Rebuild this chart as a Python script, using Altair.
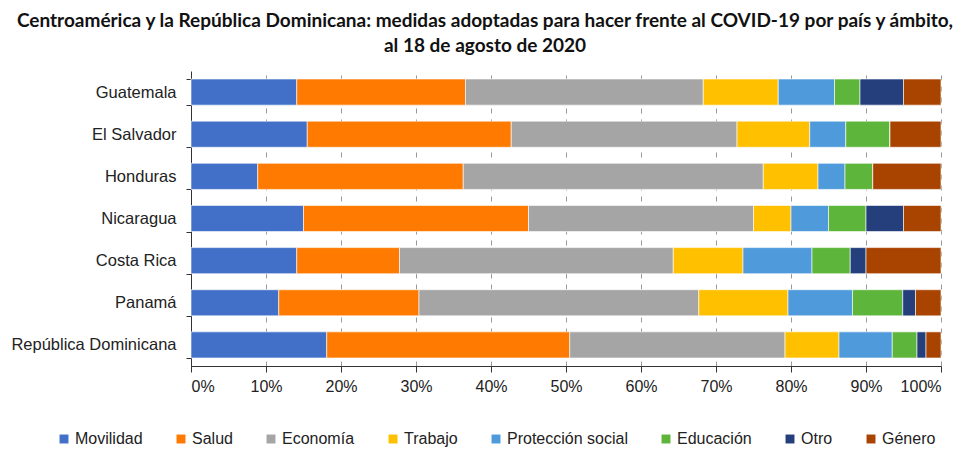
import altair as alt
import pandas as pd

countries = ["Guatemala", "El Salvador", "Honduras", "Nicaragua",
             "Costa Rica", "Panamá", "República Dominicana"]
categories = ["Movilidad", "Salud", "Economía", "Trabajo",
              "Protección social", "Educación", "Otro", "Género"]
colors = ["#4270C8", "#FF7A00", "#A5A5A5", "#FFC000",
          "#4F9ADB", "#5DB53B", "#243F7C", "#A84300"]

# shares (%) per country, in category order
movilidad  = [14.1, 15.5, 8.9, 15.0, 14.1, 11.7, 18.1]
salud      = [22.5, 27.2, 27.4, 30.0, 13.7, 18.7, 32.4]
economia   = [31.7, 30.1, 40.0, 30.0, 36.5, 37.3, 28.7]
trabajo    = [10.0, 9.7, 7.3, 5.0, 9.3, 11.9, 7.2]
proteccion = [7.5, 4.8, 3.6, 5.0, 9.2, 8.6, 7.1]
educacion  = [3.4, 5.9, 3.7, 5.0, 5.1, 6.7, 3.3]
otro       = [5.8, 0.0, 0.0, 5.0, 2.1, 1.7, 1.2]
genero     = [5.0, 6.8, 9.1, 5.0, 10.0, 3.4, 2.0]

series = [movilidad, salud, economia, trabajo, proteccion, educacion, otro, genero]

rows = []
for ci, (cat, vals) in enumerate(zip(categories, series)):
    for country, v in zip(countries, vals):
        rows.append({"País": country, "Ámbito": cat, "valor": v / 100.0, "orden": ci})
df = pd.DataFrame(rows)

chart = alt.Chart(df).mark_bar(stroke="white", strokeWidth=0.6).encode(
    y=alt.Y("País:N", sort=countries,
            scale=alt.Scale(paddingInner=0.38, paddingOuter=0.19),
            axis=alt.Axis(title=None, labelFontSize=16.5, labelFont="Liberation Sans",
                          labelColor="#222", labelPadding=10, tickBand="extent",
                          ticks=True, tickSize=5, tickColor="#333",
                          domainColor="#333", domainWidth=1, grid=False)),
    x=alt.X("valor:Q", stack="zero",
            scale=alt.Scale(domain=[0, 1], nice=False),
            axis=alt.Axis(title=None, format=".0%", values=[i / 10 for i in range(11)],
                          labelFontSize=16, labelFont="Liberation Sans", labelColor="#222",
                          labelPadding=6, tickSize=6, tickColor="#333",
                          domainColor="#333", domainWidth=1,
                          grid=True, gridColor="#999", gridDash=[5, 6], gridWidth=1)),
    color=alt.Color("Ámbito:N",
                    scale=alt.Scale(domain=categories, range=colors),
                    legend=alt.Legend(title=None, orient="none", direction="horizontal",
                                      legendX=-135, legendY=360,
                                      symbolType="square", symbolSize=80,
                                      symbolStrokeWidth=0, labelOffset=3,
                                      labelFontSize=16, labelFont="Liberation Sans",
                                      labelColor="#222", columnPadding=30,
                                      columns=8)),
    order=alt.Order("orden:Q", sort="ascending"),
).properties(
    width=750,
    height=295,
    title=alt.Title(
        ["Centroamérica y la República Dominicana: medidas adoptadas para hacer frente al COVID-19 por país y ámbito,",
         "al 18 de agosto de 2020"],
        font="Lato", fontSize=19, fontWeight="bold", color="#111",
        anchor="middle", frame="group", dx=-81, lineHeight=25, offset=7),
    padding={"left": 10, "top": 12, "right": 2, "bottom": 0},
).configure_view(stroke=None)

chart.save("out.html", embed_options={"renderer": "svg", "actions": False})
